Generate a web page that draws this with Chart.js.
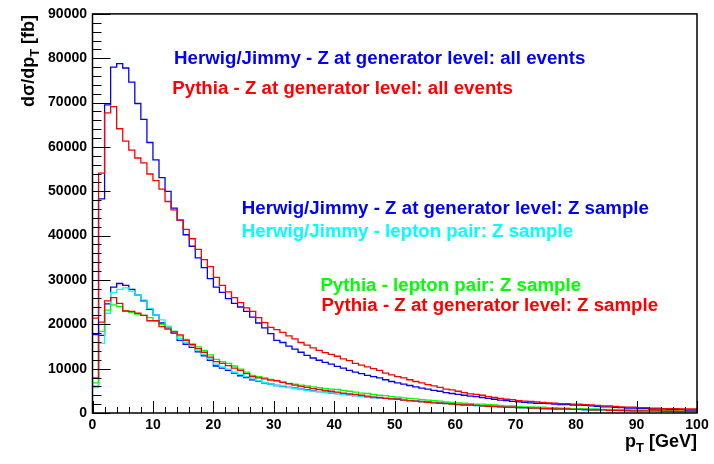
<!DOCTYPE html>
<html>
<head>
<meta charset="utf-8">
<script src="https://cdn.jsdelivr.net/npm/chart.js@4.4.0/dist/chart.umd.min.js"></script>
<style>
  html, body { margin: 0; padding: 0; background: #fff; }
  #wrap { width: 714px; height: 464px; }
</style>
</head>
<body>
<div id="wrap"><canvas id="pt-chart" width="714" height="464"></canvas></div>
<script>
// pT spectrum of the Z, 1 GeV bins from 0 to 100 GeV, d(sigma)/dpT in fb
const ptMin = 0;
const binWidth = 1;

const herwigAll = [
  17700, 48300, 69500, 78000, 78800, 77800, 74600, 69800, 66200, 61000,
  57100, 53100, 50000, 46200, 43500, 40200, 37600, 35000, 32800, 30300,
  28400, 27200, 25800, 24700, 23900, 22900, 21600, 20300, 19200, 17900,
  16400, 15900, 15100, 14400, 13700, 13000, 12400, 11900, 11400, 11000,
  10500, 10100, 9600, 9200, 8900, 8500, 8200, 7900, 7500, 7100,
  6800, 6500, 6200, 5900, 5600, 5400, 5100, 4900, 4600, 4400,
  4200, 4000, 3800, 3700, 3500, 3300, 3100, 2900, 2800, 2600,
  2500, 2400, 2300, 2200, 2200, 2100, 2000, 1900, 1900, 1800,
  1800, 1700, 1600, 1500, 1400, 1400, 1300, 1200, 1100, 1100,
  1000, 1000, 900, 900, 900, 800, 800, 800, 700, 700
];

const pythiaAll = [
  21400, 54100, 67700, 69100, 64100, 61300, 59300, 57500, 56400, 53900,
  52400, 50500, 47700, 45800, 43500, 41400, 39300, 36900, 34600, 33000,
  30600, 28800, 27300, 26000, 24900, 23700, 22900, 21500, 20400, 19300,
  18800, 18200, 17400, 16700, 15900, 15300, 14700, 14100, 13600, 13200,
  12800, 12200, 11800, 11200, 10800, 10400, 10000, 9600, 9000, 8600,
  8200, 7900, 7500, 7100, 6800, 6400, 6100, 5800, 5400, 5200,
  4900, 4600, 4300, 4200, 4000, 3700, 3500, 3300, 3100, 3000,
  2800, 2700, 2600, 2500, 2400, 2300, 2200, 2100, 2100, 2000,
  2000, 1900, 1800, 1700, 1600, 1600, 1500, 1400, 1300, 1300,
  1200, 1200, 1100, 1100, 1000, 1000, 1000, 900, 900, 900
];

const herwigZ = [
  6000, 17500, 24600, 28400, 29200, 28800, 27900, 26600, 25300, 23400,
  22100, 20300, 19200, 18000, 16400, 15500, 14800, 13800, 12900, 11900,
  10600, 10100, 9600, 9000, 8400, 8000, 7500, 7200, 6800, 6500,
  6200, 6000, 5800, 5600, 5400, 5200, 5000, 4800, 4700, 4500,
  4400, 4300, 4100, 3900, 3800, 3600, 3500, 3400, 3300, 3200,
  3100, 2900, 2800, 2700, 2600, 2500, 2400, 2300, 2200, 2100,
  2000, 1900, 1800, 1700, 1600, 1600, 1500, 1400, 1400, 1300,
  1200, 1200, 1100, 1100, 1000, 1000, 900, 900, 900, 800,
  800, 700, 700, 700, 700, 600, 600, 600, 500, 500,
  500, 500, 400, 400, 400, 400, 300, 300, 300, 300
];

const herwigLep = [
  5700, 15700, 22500, 27200, 27900, 28200, 27500, 26600, 25500, 23600,
  22100, 21000, 19600, 18400, 16800, 15900, 15200, 14100, 13200, 12200,
  11000, 10400, 9900, 9200, 8700, 8200, 7700, 7300, 6900, 6500,
  6200, 5900, 5700, 5500, 5300, 5100, 4900, 4800, 4600, 4500,
  4400, 4200, 4000, 3900, 3700, 3600, 3500, 3400, 3300, 3100,
  3000, 2900, 2800, 2600, 2500, 2400, 2300, 2200, 2100, 2000,
  1900, 1800, 1700, 1600, 1600, 1500, 1400, 1300, 1300, 1200,
  1200, 1100, 1100, 1000, 1000, 900, 900, 800, 800, 800,
  800, 700, 700, 700, 600, 600, 600, 500, 500, 500,
  500, 400, 400, 400, 400, 300, 300, 300, 300, 300
];

const pythiaLep = [
  6800, 18400, 23200, 24400, 24000, 23000, 22700, 22300, 22000, 21500,
  20800, 20000, 19300, 18400, 17400, 16600, 15600, 14900, 14100, 13100,
  12100, 11600, 11200, 10600, 9900, 9200, 8500, 8200, 7900, 7600,
  7200, 7000, 6700, 6500, 6300, 6100, 5900, 5700, 5500, 5400,
  5300, 5100, 4900, 4700, 4500, 4400, 4200, 4000, 3900, 3700,
  3600, 3400, 3300, 3200, 3000, 2900, 2800, 2700, 2500, 2400,
  2300, 2200, 2100, 2000, 2000, 1900, 1800, 1700, 1600, 1600,
  1500, 1400, 1400, 1300, 1300, 1200, 1200, 1100, 1100, 1000,
  1000, 900, 900, 900, 800, 800, 800, 700, 700, 700,
  600, 600, 600, 500, 500, 500, 500, 400, 400, 400
];

const pythiaZ = [
  7900, 20500, 25300, 26000, 24700, 23000, 22900, 22500, 22000, 20800,
  20800, 19500, 18900, 18300, 17600, 16400, 15400, 14500, 13700, 12600,
  11600, 11200, 10700, 10100, 9600, 8900, 8200, 7900, 7700, 7400,
  7300, 6900, 6600, 6300, 6000, 5800, 5500, 5300, 5100, 4900,
  4700, 4500, 4300, 4200, 4000, 3800, 3600, 3500, 3300, 3200,
  3100, 2900, 2800, 2700, 2500, 2400, 2300, 2200, 2100, 2000,
  1900, 1800, 1800, 1700, 1600, 1500, 1500, 1400, 1300, 1300,
  1200, 1200, 1100, 1100, 1000, 1000, 900, 900, 900, 800,
  800, 800, 700, 700, 700, 600, 600, 600, 600, 500,
  500, 500, 500, 500, 400, 400, 400, 400, 400, 400
];

// x ticks every 10 GeV, y ticks every 10000 fb
const xTicks = [0, 10, 20, 30, 40, 50, 60, 70, 80, 90, 100];
const yTicks = [0, 10000, 20000, 30000, 40000, 50000, 60000, 70000, 80000, 90000];

// TLatex-style captions, placed in user coordinates (GeV, fb)
const captions = [
  { text: 'Herwig/Jimmy - Z at generator level: all events', color: '#0000ff', x: 13.5, y: 78700 },
  { text: 'Pythia - Z at generator level: all events', color: '#ff0000', x: 13.2, y: 72000 },
  { text: 'Herwig/Jimmy - Z at generator level: Z sample', color: '#0000ff', x: 24.7, y: 44900 },
  { text: 'Herwig/Jimmy - lepton pair: Z sample', color: '#00ffff', x: 24.7, y: 39700 },
  { text: 'Pythia - lepton pair: Z sample', color: '#00ff00', x: 37.7, y: 27500 },
  { text: 'Pythia - Z at generator level: Z sample', color: '#ff0000', x: 37.9, y: 23000 }
];

const FONT = '"Liberation Sans", Arial, Helvetica, sans-serif';

// histogram outline: each bin gives its low and high edge at the bin content
function histPoints(values) {
  const pts = [];
  values.forEach((v, i) => {
    const lo = ptMin + i * binWidth;
    pts.push({ x: lo, y: v });
    pts.push({ x: lo + binWidth, y: v });
  });
  return pts;
}

function histSet(label, values, color, order) {
  return {
    label,
    data: histPoints(values),
    borderColor: color,
    borderWidth: 1.3,
    pointRadius: 0,
    tension: 0,
    fill: false,
    order
  };
}

// ROOT-like frame: box, ticks pointing inside, captions and axis titles
const rootFrame = {
  id: 'rootFrame',
  afterDatasetsDraw(chart) {
    const { ctx, chartArea: a, scales: { x, y } } = chart;
    ctx.save();
    ctx.strokeStyle = '#000';
    ctx.lineWidth = 1;

    for (let v = 0; v <= 100; v += 2) {
      const px = Math.round(x.getPixelForValue(v)) + 0.5;
      const len = v % 10 === 0 ? 12 : 6;
      ctx.beginPath();
      ctx.moveTo(px, a.bottom);
      ctx.lineTo(px, a.bottom - len);
      ctx.stroke();
    }
    for (let v = 0; v <= 90000; v += 2000) {
      const py = Math.round(y.getPixelForValue(v)) + 0.5;
      const len = v % 10000 === 0 ? 18 : 9;
      ctx.beginPath();
      ctx.moveTo(a.left, py);
      ctx.lineTo(a.left + len, py);
      ctx.stroke();
    }
    ctx.lineWidth = 1.5;
    ctx.strokeRect(a.left, a.top, a.right - a.left, a.bottom - a.top);

    // captions
    ctx.font = 'bold 18.7px ' + FONT;
    ctx.textAlign = 'left';
    ctx.textBaseline = 'alphabetic';
    captions.forEach(c => {
      ctx.fillStyle = c.color;
      ctx.fillText(c.text, x.getPixelForValue(c.x), y.getPixelForValue(c.y));
    });

    // x title: p_T [GeV], right-aligned at the end of the axis
    ctx.fillStyle = '#000';
    const big = 'bold 18px ' + FONT;
    const small = 'bold 13px ' + FONT;
    ctx.font = big;
    const wP = ctx.measureText('p').width;
    const wRest = ctx.measureText(' [GeV]').width;
    ctx.font = small;
    const wT = ctx.measureText('T').width;
    const xs = a.right - (wP + wT + wRest);
    const xb = 447;
    ctx.font = big;
    ctx.fillText('p', xs, xb);
    ctx.font = small;
    ctx.fillText('T', xs + wP, xb + 5);
    ctx.font = big;
    ctx.fillText(' [GeV]', xs + wP + wT, xb);

    // y title: dσ/dp_T [fb], rotated, ending at the top of the frame
    ctx.save();
    ctx.translate(34, a.top + 1);
    ctx.rotate(-Math.PI / 2);
    ctx.font = big;
    const w1 = ctx.measureText('d\u03c3/dp').width;
    const w3 = ctx.measureText(' [fb]').width;
    ctx.font = small;
    const w2 = ctx.measureText('T').width;
    const ys = -(w1 + w2 + w3);
    ctx.font = big;
    ctx.fillText('d\u03c3/dp', ys, 0);
    ctx.font = small;
    ctx.fillText('T', ys + w1, 5);
    ctx.font = big;
    ctx.fillText(' [fb]', ys + w1 + w2, 0);
    ctx.restore();

    ctx.restore();
  }
};

const tickFont = { family: FONT, size: 14, weight: 'bold' };

new Chart(document.getElementById('pt-chart').getContext('2d'), {
  type: 'line',
  data: {
    datasets: [
      histSet('Herwig/Jimmy - Z at generator level: all events', herwigAll, '#0000ff', 2),
      histSet('Pythia - Z at generator level: all events', pythiaAll, '#ff0000', 1),
      histSet('Herwig/Jimmy - Z at generator level: Z sample', herwigZ, '#0000ff', 6),
      histSet('Herwig/Jimmy - lepton pair: Z sample', herwigLep, '#00ffff', 5),
      histSet('Pythia - lepton pair: Z sample', pythiaLep, '#00ff00', 4),
      histSet('Pythia - Z at generator level: Z sample', pythiaZ, '#ff0000', 3)
    ]
  },
  options: {
    responsive: false,
    animation: false,
    layout: { padding: { top: 8, right: 17, left: 0, bottom: 0 } },
    plugins: {
      legend: { display: false },
      tooltip: { enabled: false }
    },
    scales: {
      x: {
        type: 'linear',
        min: 0,
        max: 100,
        afterFit: (s) => { s.height = 51; },
        afterBuildTicks: (s) => { s.ticks = xTicks.map(v => ({ value: v })); },
        grid: { display: false, drawTicks: false },
        border: { display: false },
        ticks: { color: '#000', font: tickFont, padding: 4, maxRotation: 0, autoSkip: false,
                 callback: (v) => String(v) }
      },
      y: {
        type: 'linear',
        min: 0,
        max: 90000,
        afterFit: (s) => { s.width = 92.5; },
        afterBuildTicks: (s) => { s.ticks = yTicks.map(v => ({ value: v })); },
        grid: { display: false, drawTicks: false },
        border: { display: false },
        ticks: { color: '#000', font: tickFont, padding: 5.5, autoSkip: false,
                 callback: (v) => String(v) }
      }
    }
  },
  plugins: [rootFrame]
});
</script>
</body>
</html>
